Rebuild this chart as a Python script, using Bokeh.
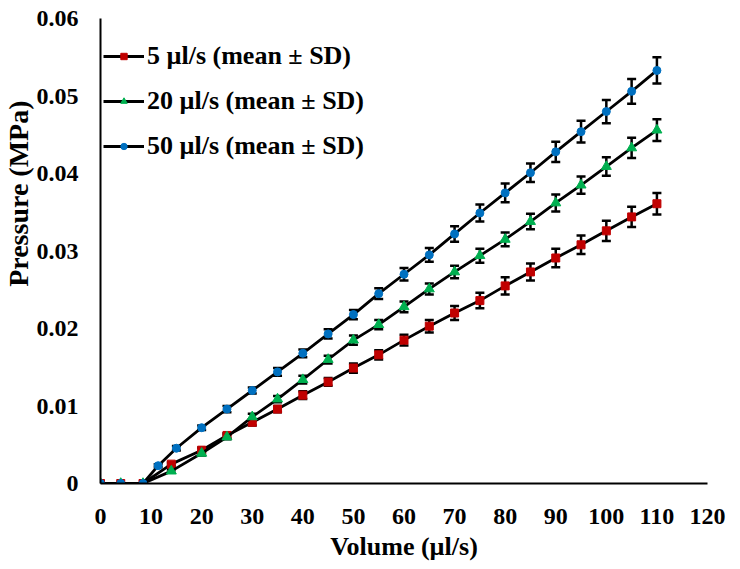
from bokeh.plotting import figure
from bokeh.models import (Range1d, FixedTicker, NumeralTickFormatter, Whisker, TeeHead,
                          ColumnDataSource, Legend, LegendItem, Title)
from bokeh.embed import file_html
from bokeh.resources import INLINE

# ---- data ----
x_ticks = [0, 10, 20, 30, 40, 50, 60, 70, 80, 90, 100, 110, 120]
y_ticks = [0, 0.01, 0.02, 0.03, 0.04, 0.05, 0.06]

vol_5 = [0, 4, 8.4, 14, 20, 25, 30, 35, 40, 45, 50, 55, 60, 65, 70, 75, 80, 85, 90, 95, 100, 105, 110]
p_5 = [0, 0, 0, 0.0025, 0.0043, 0.0062, 0.0079, 0.0096, 0.0114, 0.0131, 0.0149, 0.0166,
       0.0185, 0.0203, 0.0220, 0.0236, 0.0255, 0.0273, 0.0291, 0.0308, 0.0326, 0.0344, 0.0361]
sd_5 = [0, 0, 0, 0.0002, 0.0003, 0.0003, 0.0004, 0.0004, 0.0005, 0.0005, 0.0006, 0.0006,
        0.0007, 0.0008, 0.0009, 0.0010, 0.0011, 0.0011, 0.0012, 0.0012, 0.0013, 0.0013, 0.0014]

vol_20 = [0, 4, 8.4, 14, 20, 25, 30, 35, 40, 45, 50, 55, 60, 65, 70, 75, 80, 85, 90, 95, 100, 105, 110]
p_20 = [0, 0, 0, 0.0016, 0.0039, 0.0060, 0.0086, 0.0109, 0.0134, 0.0160, 0.0185, 0.0205,
        0.0228, 0.0251, 0.0273, 0.0294, 0.0315, 0.0338, 0.0362, 0.0385, 0.0409, 0.0433, 0.0456]
sd_20 = [0, 0, 0, 0.0002, 0.0003, 0.0003, 0.0004, 0.0004, 0.0005, 0.0005, 0.0006, 0.0006,
         0.0007, 0.0007, 0.0008, 0.0009, 0.0009, 0.0010, 0.0011, 0.0011, 0.0012, 0.0013, 0.0014]

vol_50 = [0, 4, 8.4, 11.4, 15, 20, 25, 30, 35, 40, 45, 50, 55, 60, 65, 70, 75, 80, 85, 90, 95, 100, 105, 110]
p_50 = [0, 0, 0, 0.0023, 0.00455, 0.0072, 0.0096, 0.0120, 0.0144, 0.0168, 0.0193, 0.0218,
        0.0245, 0.0270, 0.0295, 0.0322, 0.0349, 0.0375, 0.0401, 0.0428, 0.0454, 0.0480, 0.0506, 0.0533]
sd_50 = [0, 0, 0, 0.0002, 0.0003, 0.0003, 0.0004, 0.0004, 0.0005, 0.0005, 0.0006, 0.0006,
         0.0007, 0.0008, 0.0009, 0.0010, 0.0011, 0.0012, 0.0012, 0.0013, 0.0014, 0.0015, 0.0016, 0.0017]

labels = ["5 µl/s (mean ± SD)", "20 µl/s (mean ± SD)", "50 µl/s (mean ± SD)"]
colors = ["#C00000", "#00B050", "#0070C0"]
markers = ["square", "triangle", "circle"]
sizes = [8, 10, 8]

FONT = "Liberation Serif"

p = figure(width=740, height=569, x_range=Range1d(0, 120), y_range=Range1d(0, 0.06),
           output_backend="svg", toolbar_location=None,
           min_border_left=99, min_border_right=33, min_border_top=18, min_border_bottom=86)
p.grid.visible = False
p.outline_line_color = None
p.background_fill_color = "white"

for ax in (p.xaxis, p.yaxis):
    ax.axis_line_color = "black"
    ax.axis_line_width = 2
    ax.major_tick_out = 0
    ax.major_tick_in = 0
    ax.minor_tick_out = 0
    ax.minor_tick_in = 0
    ax.major_label_text_font = FONT
    ax.major_label_text_font_style = "bold"
    ax.major_label_text_font_size = "24px"
    ax.major_label_text_color = "black"

p.xaxis.ticker = FixedTicker(ticks=x_ticks)
p.yaxis.ticker = FixedTicker(ticks=y_ticks)
p.yaxis.formatter = NumeralTickFormatter(format="0.[00]")
p.xaxis.major_label_standoff = 25
p.yaxis.major_label_standoff = 22

p.xaxis.axis_label = "Volume (µl/s)"
p.xaxis.axis_label_text_font = FONT
p.xaxis.axis_label_text_font_style = "bold"
p.xaxis.axis_label_text_font_size = "26px"
p.xaxis.axis_label_text_color = "black"
p.xaxis.axis_label_standoff = 5

ytitle = Title(text="Pressure (MPa)", align="right", offset=82, standoff=0,
               text_font=FONT, text_font_style="bold", text_font_size="28px",
               text_color="black")
p.add_layout(ytitle, "left")

items = []
for xs, ys, sds, color, marker, size, name in zip(
        [vol_5, vol_20, vol_50], [p_5, p_20, p_50], [sd_5, sd_20, sd_50],
        colors, markers, sizes, labels):
    src = ColumnDataSource(dict(x=xs, y=ys))
    wx = [x for x, s in zip(xs, sds) if s > 0]
    wl = [y - s for y, s in zip(ys, sds) if s > 0]
    wu = [y + s for y, s in zip(ys, sds) if s > 0]
    wsrc = ColumnDataSource(dict(x=wx, lower=wl, upper=wu))
    line = p.line("x", "y", source=src, line_color="black", line_width=2.8, line_join="round")
    p.add_layout(Whisker(source=wsrc, base="x", upper="upper", lower="lower",
                         line_color="black", line_width=2.5,
                         upper_head=TeeHead(size=9, line_width=2.5, line_color="black"),
                         lower_head=TeeHead(size=9, line_width=2.5, line_color="black")))
    sc = p.scatter("x", "y", source=src, marker=marker, size=size,
                   fill_color=color, line_color=color)
    items.append(LegendItem(label=name, renderers=[line, sc]))

legend = Legend(items=items, location=(3, 315), label_text_font=FONT,
                label_text_font_style="bold", label_text_font_size="26px",
                label_text_color="black",
                glyph_width=41, glyph_height=16, label_height=45, spacing=0,
                padding=0, margin=0, label_standoff=3,
                border_line_color=None, background_fill_alpha=0)
p.add_layout(legend)

open("out.html", "w").write(file_html(p, INLINE))
